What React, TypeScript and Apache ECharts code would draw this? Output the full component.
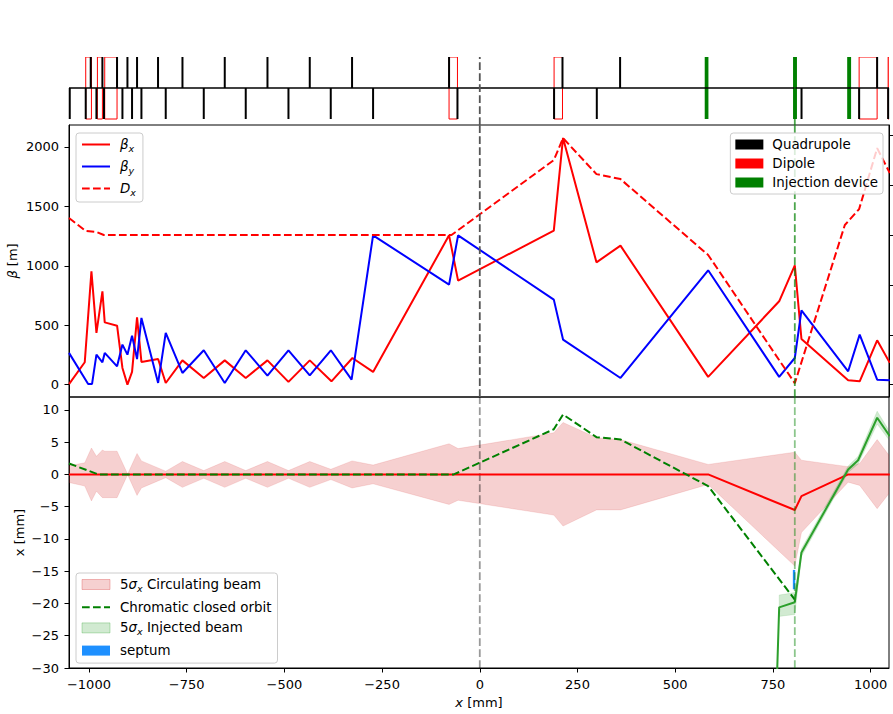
import React, { useEffect, useRef } from 'react';
import * as echarts from 'echarts';

const FONT = 'DejaVu Sans';
const X_MIN = -1051;
const X_MAX = 1047;
const xTicks = [-1000, -750, -500, -250, 0, 250, 500, 750, 1000];
const betaTicks = [0, 500, 1000, 1500, 2000];
const dxTicks = [0, 1, 2, 3, 4, 5];
const ipPosition = 0;
const injectionPosition = 806;

// ---- lattice ----
const quadS = [-995.4, -965.5, -928.1, -901.5, -876.9, -823.2, -760.7, -652.5, -543.2, -435.0, -326.8, -78.6, 211.6, 359.0, 1016.6,
  -1049.1, -1008.2, -980.8, -961.4, -914.3, -889.7, -865.7, -803.5, -706.2, -598.8, -489.5, -381.3, -273.0, -57.1, 190.1, 299.4, 823.2, 970.6, 1044.8];
const quadPol = [1, 1, 1, 1, 1, 1, 1, 1, 1, 1, 1, 1, 1, 1, 1,
  -1, -1, -1, -1, -1, -1, -1, -1, -1, -1, -1, -1, -1, -1, -1, -1, -1, -1, -1];
const dipoleStart = [-1008.2, -978.3, -959.6, -78.6, 190.1, 970.6, 1044.8];
const dipoleEnd = [-993.6, -965.5, -928.1, -57.1, 211.6, 1016.6, 1090];
const injDevStart = [575.5, 801.5, 940];
const injDevEnd = [585, 811.5, 950];

// ---- optics ----
const betaXS = [-1051, -1010.7, -993.6, -980.8, -965.5, -959.6, -928, -914.3, -901.5, -889.7, -876.9, -865.7, -823, -803.5, -760.8, -706.2, -652.5, -598.8, -543.3, -489.5, -435, -379.5, -325.8, -273, -78.6, -55.5, 189.4, 213, 298.5, 360, 584.3, 766, 806, 823, 942.5, 972, 1016.7, 1049];
const betaX = [5, 188, 953, 435, 785, 524, 496, 140, 0, 107, 566, 191, 216, 14, 204, 56, 204, 56, 204, 23, 204, 28, 224, 107, 1256, 875, 1296, 2075, 1029, 1169, 65, 701, 1004, 384, 36, 28, 373, 183];
const betaYS = [-1051, -1002, -992, -980.8, -965.5, -959.6, -928, -914.3, -901.5, -889.7, -876.9, -865.7, -823, -803.5, -760.8, -706.2, -652.5, -598.8, -543.3, -489.5, -435, -381, -328, -273, -78.6, -55.5, 189.4, 213, 360, 584.3, 766, 806, 823, 942.5, 972, 1016.7, 1049];
const betaY = [267, 6, 6, 252, 188, 267, 154, 337, 252, 412, 215, 561, 14, 435, 98, 289, 14, 289, 76, 289, 78, 289, 42, 1256, 841, 1256, 715, 379, 56, 962, 65, 224, 625, 112, 421, 42, 36];
const dxS = [-1051, -1008, -981, -962, -72.4, 189.4, 213, 298.5, 360, 584.3, 806, 934, 970.6, 1016.7, 1049];
const dx = [3.34, 3.08, 3.06, 3.0, 3.0, 4.5, 4.94, 4.22, 4.12, 2.6, 0.03, 3.2, 3.52, 4.74, 4.24];

// ---- orbit ----
const orbitS = [-1051, 584.3, 806, 823, 942.5, 1049];
const orbitX = [0, 0, -5.52, -3.36, 0, 0];
const envS = [-1051, -1010.7, -993.6, -980.8, -965.5, -959.6, -928, -901, -876.9, -865.7, -803.5, -760.8, -706.2, -652.5, -598.8, -543.3, -489.5, -435, -381, -326.8, -273, -78.6, -55.5, 189.4, 213, 298.5, 360, 584.3, 806, 823, 942.5, 972, 1016.7, 1049];
const bandUpper = [1.35, 1.8, 4.1, 2.8, 3.8, 3.6, 3.6, 0.05, 3.25, 2.1, 0.5, 2.0, 0.6, 2.0, 0.6, 2.0, 0.6, 2.0, 0.8, 2.1, 1.45, 4.75, 4.0, 6.45, 8.05, 5.7, 5.4, 1.55, 3.45, 2.2, 1.2, 1.7, 5.4, 2.8];
const bandLower = [-1.25, -1.8, -4.1, -2.6, -3.6, -3.6, -3.6, -0.05, -3.25, -2.1, -0.5, -2.0, -0.6, -2.0, -0.6, -2.0, -0.6, -2.0, -0.8, -2.1, -1.45, -4.65, -4.0, -6.3, -8.0, -5.5, -5.5, -1.55, -14.2, -9.0, -1.2, -1.7, -5.3, -2.8];
const chromS = [-1051, -976, -66.5, 189.4, 213, 298.5, 360, 584.3, 806];
const chromX = [1.7, 0, 0, 7.0, 9.29, 5.78, 5.42, -1.81, -19.4];
const injS = [758, 766, 806, 823, 942.5, 968, 1016.7, 1049];
const injX = [-36, -20.6, -19.8, -12.1, 0.77, 2.2, 8.78, 5.93];
const injBandS = [766, 806, 823, 942.5, 968, 1016.7, 1049];
const injBandUpper = [-18.7, -18.3, -11.5, 1.3, 2.8, 9.8, 6.6];
const injBandLower = [-22.0, -21.7, -12.7, 0.3, 1.6, 7.8, 5.2];
const septumS = [801, 807];
const septumX = [-17.8, -14.8];

const minus = (v: number) => (v < 0 ? '\u2212' + Math.abs(v) : String(v));

const legendNames: Record<string, string> = {
  beta_x: '{i|β}{s|x}',
  beta_y: '{i|β}{s|y}',
  D_x: '{i|D}{s|x}',
  circ_beam: '5{i|σ}{s|x} Circulating beam',
  inj_beam: '5{i|σ}{s|x} Injected beam',
};

const LEG_FS = 13.4;
const rich = {
  i: { fontStyle: 'italic', fontSize: LEG_FS, fontFamily: FONT, color: '#000' },
  s: { fontStyle: 'italic', fontSize: 9.5, fontFamily: FONT, color: '#000', padding: [7, 0, 0, 0] },
};

const legendBase = {
  orient: 'vertical',
  itemWidth: 28,
  itemHeight: 10,
  backgroundColor: 'rgba(255,255,255,0.8)',
  borderColor: '#cccccc',
  borderWidth: 1,
  borderRadius: 3,
  selectedMode: false,
  formatter: (n: string) => legendNames[n] ?? n,
  textStyle: { fontSize: LEG_FS, fontFamily: FONT, color: '#000', padding: [0, 0, 0, 5], rich },
};

const hiddenSymbol = { opacity: 0, color: 'rgba(0,0,0,0)', borderWidth: 0 };

const bandRender = (sArr: number[], up: number[], lo: number[], fill: string, stroke: string) =>
  (params: any, api: any) => {
    if (params.dataIndex !== 0) return null;
    const pts: number[][] = [];
    for (let i = 0; i < sArr.length; i++) pts.push(api.coord([sArr[i], up[i]]));
    for (let i = sArr.length - 1; i >= 0; i--) pts.push(api.coord([sArr[i], lo[i]]));
    return { type: 'polygon', shape: { points: pts }, style: { fill, stroke, lineWidth: 1 } };
  };

const zip = (a: number[], b: number[]) => a.map((v, i) => [v, b[i]]);

function buildOption(): any {
  const axisLineStyle = { color: '#000', width: 1 };
  const labelStyle = { fontSize: 13, fontFamily: FONT, color: '#000' };
  return {
    animation: false,
    textStyle: { fontFamily: FONT },
    grid: [
      { left: 69, right: 4, top: 57, height: 68, outerBoundsMode: 'none', containLabel: false },
      { left: 69, right: 4, top: 125, height: 272, show: true, borderColor: '#000', borderWidth: 1, outerBoundsMode: 'none', containLabel: false },
      { left: 69, right: 4, top: 397, height: 271, show: true, borderColor: '#000', borderWidth: 1, outerBoundsMode: 'none', containLabel: false },
    ],
    xAxis: [
      { type: 'value', gridIndex: 0, min: X_MIN, max: X_MAX, show: false },
      { type: 'value', gridIndex: 1, min: X_MIN, max: X_MAX, show: false },
      {
        type: 'value', gridIndex: 2, min: X_MIN, max: X_MAX,
        axisLine: { show: true, onZero: false, lineStyle: axisLineStyle },
        axisTick: { show: true, length: 4.5, lineStyle: axisLineStyle, customValues: xTicks },
        axisLabel: { ...labelStyle, margin: 10, customValues: xTicks, formatter: (v: number) => minus(v) },
        splitLine: { show: false },
        name: '{i|x} [mm]', nameLocation: 'middle', nameGap: 28, nameMoveOverlap: false,
        nameTextStyle: { ...labelStyle, rich: { i: { fontStyle: 'italic', fontSize: 13, fontFamily: FONT, color: '#000' } } },
      },
    ],
    yAxis: [
      { type: 'value', gridIndex: 0, min: -1.1935, max: 1, show: false },
      {
        type: 'value', gridIndex: 1, min: -104, max: 2184,
        axisLine: { show: true, onZero: false, lineStyle: axisLineStyle },
        axisTick: { show: true, length: 4.5, lineStyle: axisLineStyle, customValues: betaTicks },
        axisLabel: { ...labelStyle, margin: 10, customValues: betaTicks, formatter: (v: number) => String(v) },
        splitLine: { show: false },
        name: '{i|β} [m]', nameLocation: 'middle', nameGap: 50, nameRotate: 90, nameMoveOverlap: false,
        nameTextStyle: { ...labelStyle, rich: { i: { fontStyle: 'italic', fontSize: 13, fontFamily: FONT, color: '#000' } } },
      },
      {
        type: 'value', gridIndex: 1, position: 'right', min: -0.246, max: 5.204,
        axisLine: { show: true, onZero: false, lineStyle: axisLineStyle },
        axisTick: { show: true, length: 4.5, lineStyle: axisLineStyle, customValues: dxTicks },
        axisLabel: { show: false },
        splitLine: { show: false },
      },
      {
        type: 'value', gridIndex: 2, min: -30, max: 12, interval: 5,
        axisLine: { show: true, onZero: false, lineStyle: axisLineStyle },
        axisTick: { show: true, length: 4.5, lineStyle: axisLineStyle },
        axisLabel: { ...labelStyle, margin: 10, formatter: (v: number) => minus(v), showMaxLabel: false },
        splitLine: { show: false },
        name: 'x [mm]', nameLocation: 'middle', nameGap: 43, nameRotate: 90, nameMoveOverlap: false,
        nameTextStyle: labelStyle,
      },
    ],
    legend: [
      {
        ...legendBase, left: 76, top: 133, itemGap: 7, padding: [5, 7, 5, 5],
        data: [
          { name: 'beta_x', itemStyle: hiddenSymbol },
          { name: 'beta_y', itemStyle: hiddenSymbol },
          { name: 'D_x', itemStyle: hiddenSymbol },
        ],
      },
      {
        ...legendBase, right: 10, top: 133, itemGap: 6, padding: [5, 5, 5, 5],
        textStyle: { ...legendBase.textStyle, padding: [0, 0, 0, 4] },
        data: [
          { name: 'Quadrupole', icon: 'rect', itemStyle: { color: '#000' } },
          { name: 'Dipole', icon: 'rect', itemStyle: { color: '#ff0000' } },
          { name: 'Injection device', icon: 'rect', itemStyle: { color: '#008000' } },
        ],
      },
      {
        ...legendBase, left: 76, top: 573, itemGap: 7.7, padding: [5, 6, 6, 5],
        data: [
          { name: 'circ_beam', icon: 'rect', itemStyle: { color: 'rgba(214,39,40,0.22)', borderColor: 'rgba(214,39,40,0.3)', borderWidth: 1 } },
          { name: 'Chromatic closed orbit', itemStyle: hiddenSymbol },
          { name: 'inj_beam', icon: 'rect', itemStyle: { color: 'rgba(44,160,44,0.22)', borderColor: 'rgba(44,160,44,0.3)', borderWidth: 1 } },
          { name: 'septum', icon: 'rect', itemStyle: { color: '#1e90ff' } },
        ],
      },
    ],
    series: [
      // ---- lattice strip ----
      {
        name: 'baseline', type: 'line', xAxisIndex: 0, yAxisIndex: 0, symbol: 'none',
        data: [[X_MIN, 0], [X_MAX, 0]], lineStyle: { color: '#000', width: 1.5 }, silent: true,
      },
      {
        name: 'Dipole', type: 'custom', xAxisIndex: 0, yAxisIndex: 0, clip: true,
        itemStyle: { color: '#ff0000' },
        data: zip(dipoleStart, dipoleEnd),
        renderItem: (params: any, api: any) => {
          const s1 = api.value(0);
          const s2 = Math.min(api.value(1), X_MAX);
          const a = api.coord([s1, 1]);
          const b = api.coord([s2, -1]);
          return { type: 'rect', shape: { x: a[0], y: a[1], width: b[0] - a[0], height: b[1] - a[1] }, style: { fill: 'none', stroke: '#ff0000', lineWidth: 1 } };
        },
      },
      {
        name: 'Quadrupole', type: 'custom', xAxisIndex: 0, yAxisIndex: 0,
        itemStyle: { color: '#000' },
        data: zip(quadS, quadPol),
        renderItem: (params: any, api: any) => {
          const a = api.coord([api.value(0), 0]);
          const b = api.coord([api.value(0), api.value(1)]);
          return { type: 'line', shape: { x1: a[0], y1: a[1], x2: b[0], y2: b[1] }, style: { stroke: '#000', lineWidth: 2 } };
        },
      },
      {
        name: 'ip-strip', type: 'line', xAxisIndex: 0, yAxisIndex: 0, symbol: 'none', silent: true,
        data: [[ipPosition, -1.1935], [ipPosition, 1]], lineStyle: { color: '#555', width: 1.8, type: [7.7, 3.3] },
      },
      {
        name: 'inj-strip', type: 'line', xAxisIndex: 0, yAxisIndex: 0, symbol: 'none', silent: true,
        data: [[injectionPosition, -1.1935], [injectionPosition, 1]], lineStyle: { color: 'rgba(0,128,0,0.7)', width: 1.8, type: [7.7, 3.3] },
      },
      {
        name: 'Injection device', type: 'custom', xAxisIndex: 0, yAxisIndex: 0,
        itemStyle: { color: '#008000' },
        data: zip(injDevStart, injDevEnd),
        renderItem: (params: any, api: any) => {
          const a = api.coord([api.value(0), 1]);
          const b = api.coord([api.value(1), -1]);
          return { type: 'rect', shape: { x: a[0], y: a[1], width: b[0] - a[0], height: b[1] - a[1] }, style: { fill: '#008000' } };
        },
      },
      // ---- optics ----
      {
        name: 'beta_x', type: 'line', xAxisIndex: 1, yAxisIndex: 1, symbol: 'none', showSymbol: false,
        data: zip(betaXS, betaX), color: '#ff0000', lineStyle: { color: '#ff0000', width: 2 },
      },
      {
        name: 'beta_y', type: 'line', xAxisIndex: 1, yAxisIndex: 1, symbol: 'none', showSymbol: false,
        data: zip(betaYS, betaY), color: '#0000ff', lineStyle: { color: '#0000ff', width: 2 },
      },
      {
        name: 'D_x', type: 'line', xAxisIndex: 1, yAxisIndex: 2, symbol: 'none', showSymbol: false,
        data: zip(dxS, dx), color: '#ff0000', lineStyle: { color: '#ff0000', width: 2, type: [7.7, 3.3] },
      },
      {
        name: 'ip-optics', type: 'line', xAxisIndex: 1, yAxisIndex: 1, symbol: 'none', silent: true,
        data: [[ipPosition, -104], [ipPosition, 2184]], lineStyle: { color: '#555', width: 1.8, type: [7.7, 3.3] },
      },
      {
        name: 'inj-optics', type: 'line', xAxisIndex: 1, yAxisIndex: 1, symbol: 'none', silent: true,
        data: [[injectionPosition, -104], [injectionPosition, 2184]], lineStyle: { color: 'rgba(0,128,0,0.7)', width: 1.8, type: [7.7, 3.3] },
      },
      // ---- orbit ----
      {
        name: 'circ_beam', type: 'custom', xAxisIndex: 2, yAxisIndex: 3, clip: true,
        itemStyle: { color: 'rgba(214,39,40,0.22)' },
        data: envS.map((s, i) => [s, bandUpper[i], bandLower[i]]),
        renderItem: bandRender(envS, bandUpper, bandLower, 'rgba(214,39,40,0.22)', 'rgba(214,39,40,0.12)'),
      },
      {
        name: 'ip-orbit', type: 'line', xAxisIndex: 2, yAxisIndex: 3, symbol: 'none', silent: true,
        data: [[ipPosition, -30], [ipPosition, 12]], lineStyle: { color: 'rgba(0,0,0,0.4)', width: 1.8, type: [7.7, 3.3] },
      },
      {
        name: 'circ_orbit', type: 'line', xAxisIndex: 2, yAxisIndex: 3, symbol: 'none',
        data: zip(orbitS, orbitX), lineStyle: { color: '#ff0000', width: 2 },
      },
      {
        name: 'Chromatic closed orbit', type: 'line', xAxisIndex: 2, yAxisIndex: 3, symbol: 'none', showSymbol: false,
        data: zip(chromS, chromX), color: '#008000', lineStyle: { color: '#008000', width: 2, type: [7.7, 3.3] },
      },
      {
        name: 'inj_beam', type: 'custom', xAxisIndex: 2, yAxisIndex: 3, clip: true,
        itemStyle: { color: 'rgba(44,160,44,0.22)' },
        data: injBandS.map((s, i) => [s, injBandUpper[i], injBandLower[i]]),
        renderItem: bandRender(injBandS, injBandUpper, injBandLower, 'rgba(44,160,44,0.22)', 'rgba(44,160,44,0.12)'),
      },
      {
        name: 'inj_line', type: 'line', xAxisIndex: 2, yAxisIndex: 3, symbol: 'none',
        data: zip(injS, injX), lineStyle: { color: '#2ca02c', width: 2 },
      },
      {
        name: 'septum', type: 'custom', xAxisIndex: 2, yAxisIndex: 3, clip: true,
        itemStyle: { color: '#1e90ff' },
        data: [[septumS[0], septumS[1], septumX[0], septumX[1]]],
        renderItem: (params: any, api: any) => {
          const a = api.coord([api.value(0), api.value(3)]);
          const b = api.coord([api.value(1), api.value(2)]);
          return { type: 'rect', shape: { x: a[0], y: a[1], width: b[0] - a[0], height: b[1] - a[1] }, style: { fill: '#1e90ff' } };
        },
      },
      {
        name: 'inj-orbit', type: 'line', xAxisIndex: 2, yAxisIndex: 3, symbol: 'none', silent: true,
        data: [[injectionPosition, -30], [injectionPosition, 12]], lineStyle: { color: 'rgba(0,128,0,0.45)', width: 1.8, type: [7.7, 3.3] },
      },
    ],
  };
}

export default function App() {
  const ref = useRef<HTMLDivElement>(null);
  useEffect(() => {
    if (!ref.current) return;
    const chart = echarts.init(ref.current, undefined, { renderer: 'svg' });
    chart.setOption(buildOption());
    return () => chart.dispose();
  }, []);
  return (
    <div
      ref={ref}
      style={{ position: 'fixed', left: 0, top: 0, width: 893, height: 714, background: '#fff' }}
    />
  );
}
